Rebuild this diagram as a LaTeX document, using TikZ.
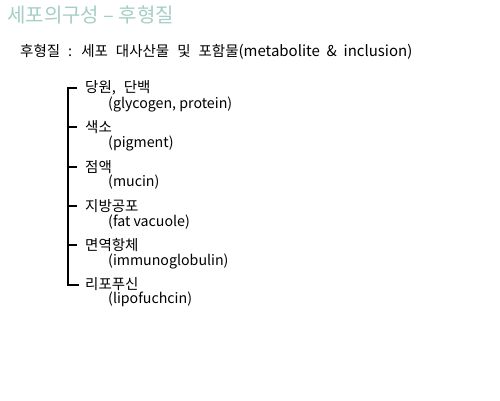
\documentclass[tikz,border=0pt]{standalone}
\usepackage{fontspec}
\setmainfont{Noto Sans CJK KR}
\definecolor{titlecol}{RGB}{166,206,198}
\newcommand\mywidesp{\spaceskip=0.55em\relax}
\newcommand\mynarrowsp{\spaceskip=0.45em\relax}
\begin{document}
\begin{tikzpicture}[x=1pt,y=-1pt,
  every node/.style={anchor=west,inner sep=0pt},
  item/.style={font=\fontsize{14.5}{16}\selectfont\mywidesp},
  sub/.style={font=\fontsize{14.2}{16}\selectfont},
  tree/.style={line width=1.6pt}]
\useasboundingbox[fill=white] (0,0) rectangle (500,400);
\node[text=titlecol,font=\fontsize{20}{22}\selectfont] (title) at (7,15) {세포의구성 – 후형질};
\node[font=\fontsize{14.5}{16}\selectfont\mywidesp] (main) at (20,52) {후형질 : 세포 대사산물 및 포함물{\fontsize{15}{16}\selectfont\mynarrowsp(metabolite \& inclusion)}};
\node[item] (i1) at (85,88) {당원, 단백};
\node[sub] (s1) at (108,104) {(glycogen, protein)};
\node[item] (i2) at (85,127) {색소};
\node[sub] (s2) at (108,143) {(pigment)};
\node[item] (i3) at (85,167) {점액};
\node[sub] (s3) at (108,182) {(mucin)};
\node[item] (i4) at (85,206) {지방공포};
\node[sub] (s4) at (108,222) {(fat vacuole)};
\node[item] (i5) at (85,245) {면역항체};
\node[sub] (s5) at (108,261) {(immunoglobulin)};
\node[item] (i6) at (85,284) {리포푸신};
\node[sub] (s6) at (108,299) {(lipofuchcin)};
\coordinate (top) at (68,88);
\coordinate (bot) at (68,285);
\draw[tree] ([xshift=-8pt]i1.west) -- (top) -- (bot) -- ([xshift=-6pt]bot -| i6.west);
\foreach \i in {2,3,4,5} \draw[tree] (68,0 |- i\i.west) -- ([xshift=-8pt]i\i.west);
\end{tikzpicture}
\end{document}
